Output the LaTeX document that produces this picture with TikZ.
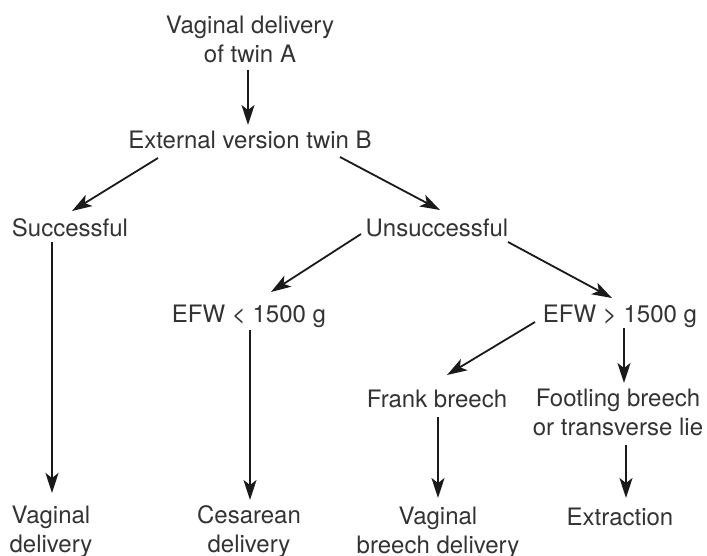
\documentclass[tikz,border=0pt]{standalone}
\usepackage{fontspec}
\setmainfont{TeX Gyre Heros}
\usetikzlibrary{arrows.meta}
\definecolor{inkline}{HTML}{1A1A1A}
\definecolor{inktext}{HTML}{333333}
\begin{document}
\begin{tikzpicture}[x=1pt,y=-1pt,
  label/.style={anchor=base,inner sep=0pt,align=center,text=inktext,
    font=\fontsize{24}{29}\selectfont},
  arr/.style={draw=inkline,line width=1.8pt,
    -{Stealth[length=20pt,width=13pt,inset=5pt]}}]
\useasboundingbox (0,0) rectangle (707,555);
% decision tree nodes (placed on the baseline of their last line)
\node[label] (top)    at (250,62)  {Vaginal delivery\\of twin A};
\node[label] (ext)    at (250,148) {External version twin B};
\node[label] (succ)   at (70,236)  {Successful};
\node[label] (unsucc) at (437,236) {Unsuccessful};
\node[label] (lt)     at (249,322) {EFW < 1500 g};
\node[label] (gt)     at (620,322) {EFW > 1500 g};
\node[label] (frank)  at (437,407) {Frank breech};
\node[label] (foot)   at (618,435) {Footling breech\\or transverse lie};
\node[label] (vd)     at (51,552)  {Vaginal\\delivery};
\node[label] (ces)    at (249,552) {Cesarean\\delivery};
\node[label] (vbd)    at (438,553) {Vaginal\\breech delivery};
\node[label] (extr)   at (620,525) {Extraction};
% connectors
\draw[arr] ([shift={(-2,8)}]top.base)    -- ([shift={(-2,-23)}]ext.base);
\draw[arr] ([shift={(-92,10)}]ext.base)  -- ([shift={(2,-25)}]succ.base);
\draw[arr] ([shift={(90,9)}]ext.base)    -- ([shift={(3,-26)}]unsucc.base);
\draw[arr] ([shift={(-76,-2)}]unsucc.base) -- ([shift={(22,-30)}]lt.base);
\draw[arr] ([shift={(71,6)}]unsucc.base) -- ([shift={(-8,-24)}]gt.base);
\draw[arr] ([shift={(-85,0)}]gt.base)    -- ([shift={(10,-32)}]frank.base);
\draw[arr] ([shift={(4,6)}]gt.base)      -- ([shift={(6,-52)}]foot.base);
\draw[arr] ([shift={(-18,6)}]succ.base)  -- ([shift={(1,-59)}]vd.base);
\draw[arr] ([shift={(1,8)}]lt.base)      -- ([shift={(1,-52)}]ces.base);
\draw[arr] ([shift={(1,10)}]frank.base)  -- ([shift={(0,-55)}]vbd.base);
\draw[arr] ([shift={(8,10)}]foot.base)   -- ([shift={(6,-27)}]extr.base);
\end{tikzpicture}
\end{document}
